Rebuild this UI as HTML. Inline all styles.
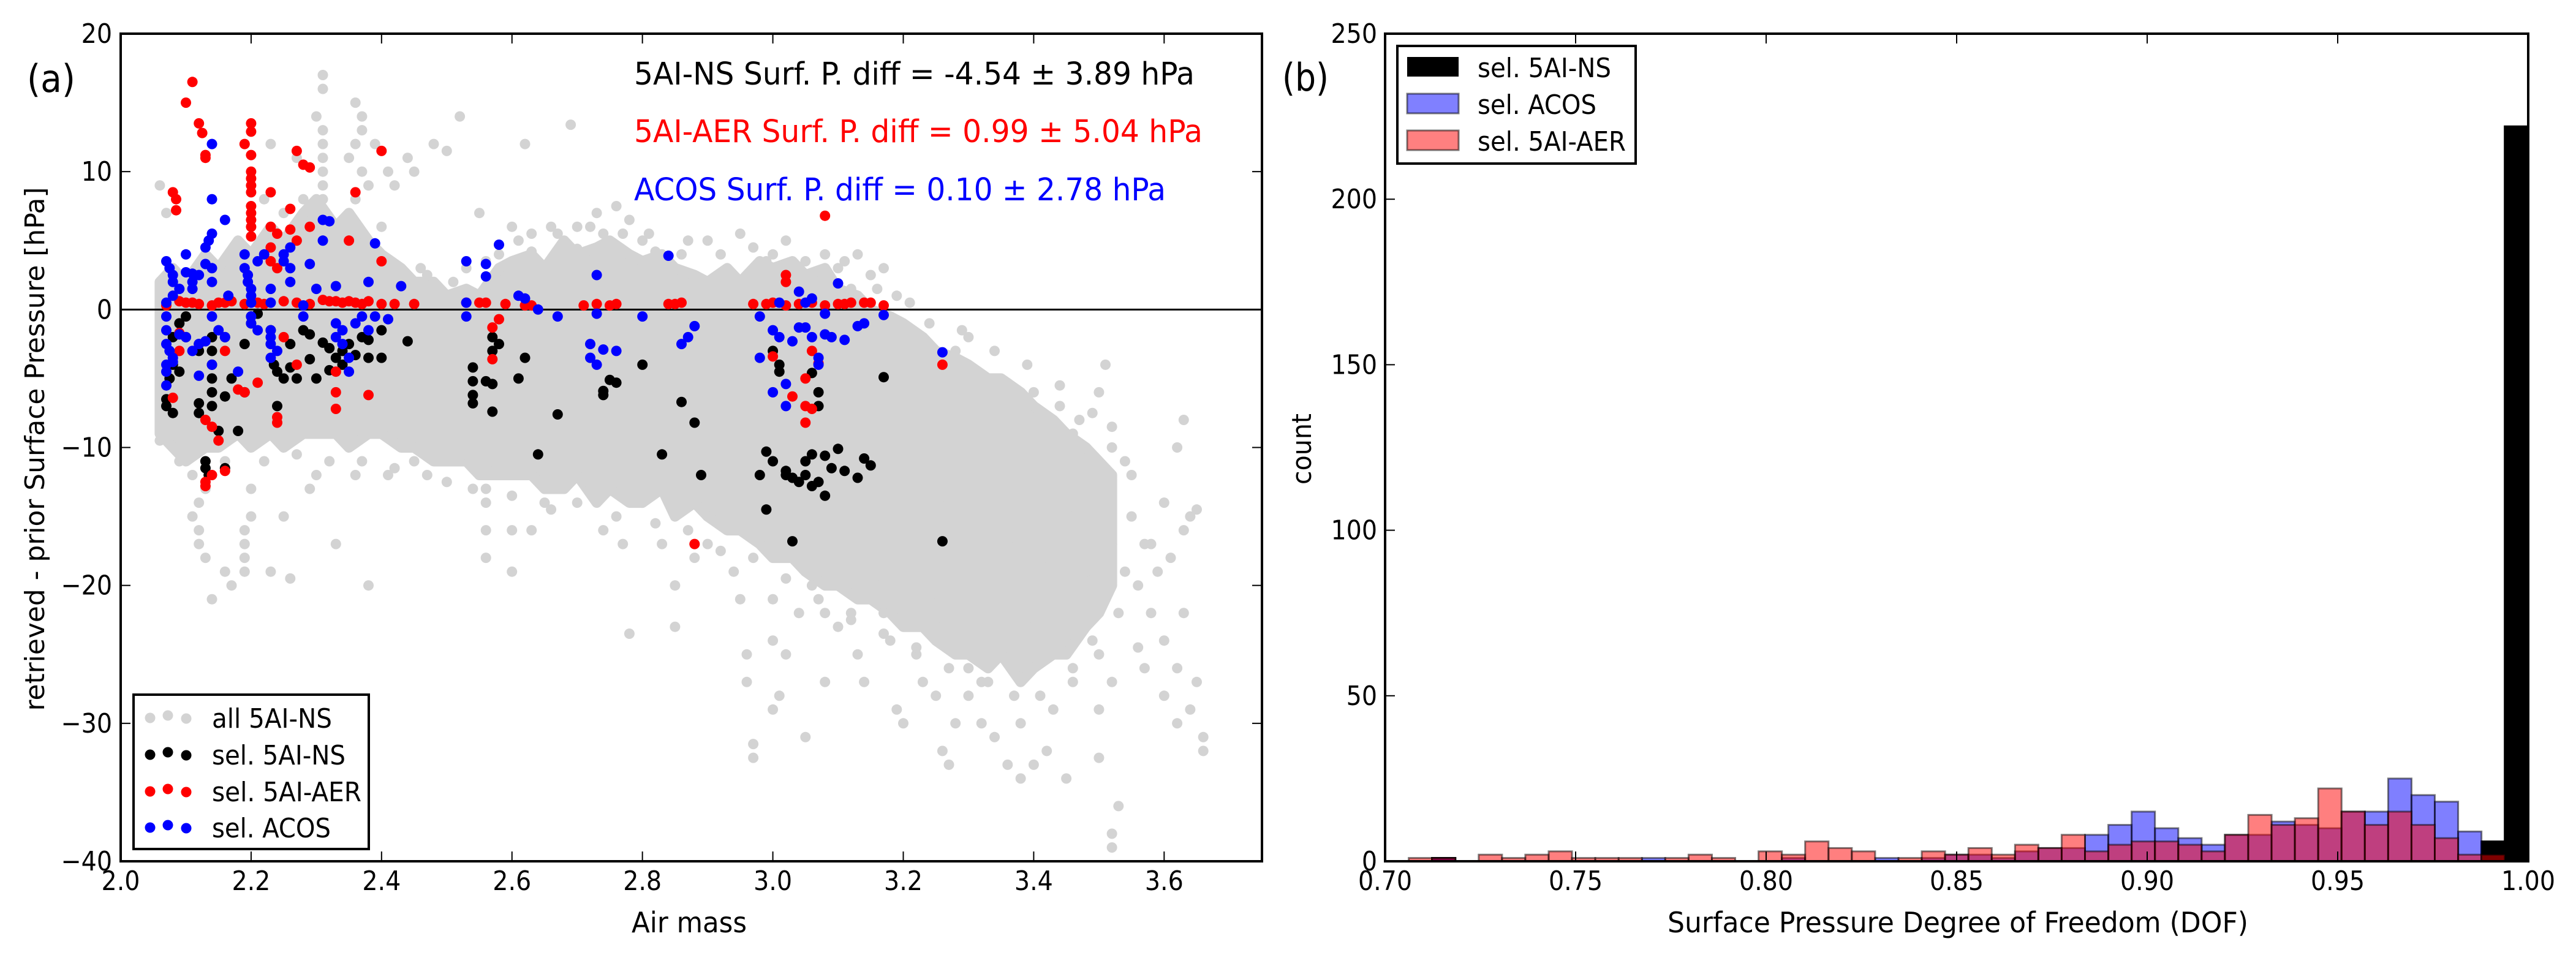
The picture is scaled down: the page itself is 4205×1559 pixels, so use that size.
<!DOCTYPE html>
<html><head><meta charset="utf-8"><style>
html,body{margin:0;padding:0;background:#fff;}
svg{display:block;font-family:"DejaVu Sans Condensed","DejaVu Sans","Liberation Sans",sans-serif;}
</style></head><body>
<svg id="fig" width="4205" height="1559" viewBox="0 0 4205 1559" xmlns="http://www.w3.org/2000/svg">
<g id="panelA"></g>
<g id="panelB"></g>
</svg>
<script>
// ===== Panel (a) data =====
const xTicksA = [2.0,2.2,2.4,2.6,2.8,3.0,3.2,3.4,3.6];
const xTickLabelsA = ["2.0","2.2","2.4","2.6","2.8","3.0","3.2","3.4","3.6"];
const yTicksA = [-40,-30,-20,-10,0,10,20];
const yTickLabelsA = ["\u221240","\u221230","\u221220","\u221210","0","10","20"];
// dense gray cloud envelope: air mass, upper and lower bound (hPa)
const bandX =   [2.06,2.08,2.10,2.13,2.15,2.18,2.20,2.23,2.25,2.28,2.30,2.33,2.35,2.38,2.40,2.43,2.45,2.48,2.50,2.53,2.55,2.58,2.60,2.63,2.65,2.68,2.70,2.73,2.75,2.78,2.80,2.83,2.85,2.88,2.90,2.93,2.95,2.98,3.00,3.03,3.05,3.08,3.10,3.13,3.15,3.18,3.20,3.23,3.25,3.28,3.30,3.33,3.35,3.38,3.40,3.43,3.45,3.48,3.50,3.52];
const bandTop = [2,3,2,4,3,5,4,6,5,7,8,6,7,5,4,3,2,2,1,1.5,1,3,3.5,4,3,5,4,4.5,5,4,3.5,4,3,2.5,2,3,2,3.5,3,3.5,2.5,3,1.5,1,0,-0.5,-1,-2,-3,-3.5,-4,-5,-5,-6,-7,-8,-9,-10,-11,-12];
const bandBot = [-9,-10,-11,-10,-10,-9,-10,-9,-10,-9,-9,-9,-10,-9,-9,-10,-10,-11,-11,-11,-12,-12,-12,-12,-13,-13,-12,-14,-13,-14,-14,-13,-15,-14,-15,-16,-16,-17,-18,-18,-19,-20,-20,-21,-21,-22,-23,-23,-24,-25,-25,-26,-25,-27,-26,-25,-25,-23,-22,-20];
const grayPts = [[2.31,17],[2.31,16],[2.31,13],[2.31,12],[2.31,11],[2.31,10],[2.31,9],[2.31,8],[2.3,14],[2.36,15],[2.37,14],[2.37,13],[2.36,12],[2.35,11],[2.37,10],[2.38,9],[2.36,8],[2.39,12],[2.41,10],[2.42,9],[2.44,11],[2.45,10],[2.52,14],[2.48,12],[2.5,11.5],[2.62,12],[2.69,13.4],[2.23,12],[2.27,11],[2.33,6],[2.06,9],[2.07,7],[2.22,8],[2.28,8],[2.25,7],[2.4,6],[2.55,7],[2.6,6],[2.63,5.5],[2.66,6],[2.7,6],[2.74,5.5],[2.76,7.5],[2.78,6.5],[2.73,7],[2.8,5],[2.9,5],[2.95,5.5],[2.99,3.5],[3.0,4],[3.03,3],[3.05,3.5],[3.1,3],[3.13,4],[3.15,2.5],[3.17,3],[3.19,1],[2.86,4],[2.84,3],[2.82,4.2],[2.7,4.4],[2.63,4.2],[2.58,4],[2.53,3],[2.46,3],[3.07,2],[3.06,2.5],[3.12,1.5],
[2.12,-14],[2.12,-16],[2.12,-17],[2.13,-18],[2.14,-21],[2.11,-15],[2.13,-13],[2.16,-19],[2.17,-20],[2.19,-16],[2.19,-17],[2.19,-18],[2.19,-19],[2.2,-15],[2.2,-13],[2.23,-19],[2.25,-15],[2.26,-19.5],[2.29,-13],[2.3,-12],[2.33,-17],[2.38,-20],[2.36,-12],[2.41,-12],[2.45,-11],[2.52,-11],[2.56,-13],[2.56,-14],[2.56,-16],[2.56,-18],[2.57,-11],[2.6,-16],[2.6,-19],[2.63,-16],[2.65,-14],[2.68,-12],[2.72,-13],[2.74,-16],[2.77,-17],[2.78,-23.5],[2.8,-14],[2.83,-17],[2.85,-20],[2.85,-23],[2.88,-18],[2.92,-15],[2.94,-19],[2.96,-25],[2.96,-27],[2.97,-31.5],[2.97,-32.5],[3.0,-21],[3.0,-24],[3.01,-28],[3.02,-25],[3.04,-22],[3.06,-20],[3.08,-22],[3.08,-27],[3.1,-20],[3.12,-22],[3.13,-25],[3.16,-20],[3.17,-22],[3.2,-21],[3.19,-29],[3.2,-30],[3.22,-25],[3.23,-27],[3.25,-28],[3.26,-32],[3.27,-33],[3.28,-30],[3.3,-26],[3.3,-28],[3.32,-30],[3.33,-27],[3.34,-31],[3.36,-33],[3.38,-30],[3.38,-34],[3.4,-33],[3.42,-32],[3.43,-29],[3.45,-34],[3.44,-24],[3.46,-26],[3.48,-23],[3.5,-25],[3.52,-27],[3.5,-32.5],[3.52,-38],[3.52,-39],[3.53,-36],[3.48,-19],[3.52,-17],[3.55,-15],[3.57,-17],[3.56,-24.5],[3.58,-17],[3.6,-14],[3.62,-10],[3.63,-8],[3.65,-14.5],[3.6,-28],[3.62,-26],[3.64,-29],[3.66,-31],[3.66,-32],[3.62,-30],[3.58,-22],[3.55,-12],[3.5,-6],[3.51,-4],[3.46,-15],[3.42,-18],[3.36,-17],[3.33,-22],[3.26,-23],[3.22,-17],[3.45,-22],[3.4,-23],[3.35,-24],[3.29,-21],[3.24,-21],[3.52,-10],[3.54,-11],[3.46,-9],[3.41,-12],[3.38,-14],[3.35,-13],[3.3,-2],[3.28,-3],[3.25,-4],[3.4,-6],[3.44,-7],[3.47,-8],[3.32,-5],[3.18,-24],[3.14,-27],[3.05,-31],[3.0,-29],[2.95,-21],[2.9,-17],[3.1,-23],[3.27,-14],[3.3,-15],[3.35,-20],[3.42,-25],[3.5,-29],
[2.06,-9.5],[2.09,-11],[2.11,-12],[2.16,-11],[2.22,-11],[2.27,-10.5],[2.32,-11],[2.37,-11],[2.42,-11.5],[2.47,-12],[2.5,-12.5],[2.54,-13],[2.6,-13.5],[2.66,-14.5],[2.7,-14],[2.76,-15],[2.82,-15.5],[2.87,-16],[2.92,-17.5],[2.97,-18],[3.02,-19.5],[3.07,-21],[3.12,-22.5],[3.17,-23.5],[3.22,-24.5],[3.27,-26],[3.32,-27],[3.37,-28],[3.41,-28],[3.46,-27],[3.49,-24],[3.53,-22],[3.54,-19],[3.56,-20],[3.59,-19],[3.61,-18],[3.63,-16],[3.64,-15],[3.57,-26],[3.6,-24],[3.63,-22],[3.65,-27],
[2.47,2.5],[2.51,2],[2.56,3.5],[2.61,5],[2.67,5.5],[2.72,6],[2.77,5.5],[2.81,5.5],[2.87,5],[2.92,4],[2.97,4.5],[3.02,5],[3.08,4],[3.11,3.5],[3.16,1.5],[3.21,0.5],[3.24,-1],[3.29,-1.5],[3.34,-3],[3.39,-4],[3.44,-5.5],[3.49,-7.5],[3.52,-8.5]];
const blackPts = [[2.07,-7],[2.07,-6.5],[2.08,-7.5],[2.075,-5],[2.08,-4],[2.08,-2],[2.09,-1],[2.1,-0.5],[2.1,-2],[2.09,-4.5],[2.12,-2.5],[2.12,-3],[2.12,-7.5],[2.12,-6.8],[2.13,-11],[2.13,-11.5],[2.135,-12],[2.14,-7],[2.14,-6],[2.14,-5],[2.14,-4],[2.14,-3],[2.14,-2],[2.15,-8.8],[2.16,-11.5],[2.16,-6.3],[2.17,-5],[2.16,-2],[2.18,-8.8],[2.19,-6],[2.19,-2.5],[2.2,-1],[2.2,-0.5],[2.21,-0.3],[2.23,-1.5],[2.235,-4],[2.24,-4.5],[2.25,-5],[2.24,-7],[2.26,-2.5],[2.26,-4.2],[2.27,-5],[2.28,-1.5],[2.29,-1.8],[2.29,-3.6],[2.3,-5],[2.31,-2.4],[2.32,-2.8],[2.32,-4.4],[2.33,-3.5],[2.34,-4],[2.34,-3],[2.35,-2.5],[2.36,-3.3],[2.37,-2],[2.38,-2.2],[2.38,-3.5],[2.4,-1.5],[2.4,-3.5],[2.44,-2.3],[2.54,-4.2],[2.54,-5.2],[2.54,-6.2],[2.54,-6.8],[2.56,-5.2],[2.57,-2],[2.57,-3],[2.57,-5.4],[2.58,-2.5],[2.57,-7.4],[2.61,-5],[2.62,-3.5],[2.64,-10.5],[2.67,-7.6],[2.74,-5.9],[2.74,-6.2],[2.75,-5.1],[2.76,-5.3],[2.8,-4],[2.83,-10.5],[2.86,-6.7],[2.88,-8.2],[2.89,-12],[2.98,-12],[2.99,-14.5],[2.99,-10.3],[3.0,-11],[3.0,-3],[3.01,-4],[3.01,-4.5],[3.02,-12],[3.02,-11.7],[3.03,-12.2],[3.03,-16.8],[3.04,-12.5],[3.05,-12],[3.05,-11],[3.06,-10.5],[3.06,-12.8],[3.06,-4.6],[3.07,-6],[3.07,-7],[3.07,-12.5],[3.08,-10.6],[3.08,-13.5],[3.09,-11.5],[3.1,-10.1],[3.11,-11.7],[3.13,-12.2],[3.14,-10.8],[3.15,-11.3],[3.17,-4.9],[3.26,-16.8]];
const redPts = [[2.07,0.3],[2.08,8.5],[2.085,8],[2.085,7.2],[2.08,-6.4],[2.09,-1.7],[2.09,-3],[2.1,0.5],[2.1,15],[2.11,16.5],[2.12,13.5],[2.125,12.8],[2.13,11],[2.13,11.2],[2.14,0.3],[2.13,-8],[2.14,-8.5],[2.13,-12.5],[2.13,-12.8],[2.14,-12],[2.15,-9.5],[2.16,-11.7],[2.16,-3],[2.16,0.5],[2.18,-5.8],[2.19,-6],[2.19,12],[2.2,13.5],[2.2,12.9],[2.2,11.2],[2.2,10],[2.2,9.5],[2.2,9],[2.2,8.5],[2.2,7.5],[2.2,7],[2.2,6.5],[2.2,6],[2.2,5.3],[2.21,-5.3],[2.23,8.5],[2.23,6],[2.24,5.5],[2.23,4.5],[2.23,3.5],[2.24,3],[2.24,-7.8],[2.24,-8.2],[2.26,7.3],[2.26,5.8],[2.27,5],[2.27,11.5],[2.28,10.5],[2.29,10.3],[2.29,6],[2.25,-2],[2.27,-4],[2.33,-4.5],[2.33,-6],[2.33,-7.2],[2.35,5],[2.36,8.5],[2.38,-6.2],[2.4,11.5],[2.4,3.5],[2.57,-1.3],[2.57,-3.6],[2.58,-0.7],[2.56,0.5],[2.63,0.3],[2.88,-17],[3.0,-3.4],[3.02,2.5],[3.02,2],[3.03,-6.3],[3.05,-5],[3.05,-7],[3.05,-8.2],[3.06,-7.2],[3.06,-3],[3.07,-3.9],[3.08,6.8],[3.26,-4],
[2.09,0.6],[2.11,0.5],[2.12,0.4],[2.15,0.5],[2.17,0.6],[2.19,0.4],[2.21,0.5],[2.22,0.4],[2.25,0.6],[2.27,0.5],[2.29,0.4],[2.31,0.7],[2.32,0.6],[2.33,0.6],[2.34,0.5],[2.35,0.6],[2.36,0.5],[2.37,0.4],[2.38,0.6],[2.4,0.4],[2.42,0.4],[2.45,0.4],[2.53,0.5],[2.55,0.5],[2.59,0.4],[2.62,0.3],[2.71,0.3],[2.73,0.4],[2.75,0.3],[2.76,0.4],[2.84,0.4],[2.85,0.4],[2.86,0.5],[2.97,0.4],[2.99,0.4],[3.0,0.5],[3.02,0.3],[3.04,0.4],[3.06,0.5],[3.08,0.3],[3.1,0.4],[3.11,0.4],[3.12,0.5],[3.14,0.5],[3.15,0.5],[3.17,0.3]];
const bluePts = [[2.07,3.5],[2.075,3],[2.08,2.5],[2.08,2],[2.08,1],[2.07,0.5],[2.07,-0.5],[2.07,-1.5],[2.07,-2.5],[2.075,-3],[2.08,-3.5],[2.07,-4],[2.07,-4.5],[2.07,-5.5],[2.08,-3.8],[2.09,-1.8],[2.09,1.5],[2.1,4],[2.1,2.7],[2.11,2.6],[2.11,2],[2.11,1.5],[2.12,2.5],[2.12,-2.5],[2.13,3.3],[2.13,4.5],[2.135,5],[2.14,5.5],[2.14,8],[2.14,12],[2.14,3],[2.14,2],[2.14,-0.5],[2.15,-1.5],[2.14,-4],[2.12,-4.8],[2.11,-3],[2.1,-2],[2.13,-2.3],[2.16,-2],[2.16,6.5],[2.165,1],[2.18,-4.5],[2.19,4],[2.19,3],[2.195,2.5],[2.195,2],[2.2,1.5],[2.2,1],[2.2,0.5],[2.2,-0.5],[2.2,-1],[2.21,-1.5],[2.21,3.5],[2.22,4],[2.23,1.5],[2.23,0.5],[2.23,-1.5],[2.23,-2],[2.23,-2.5],[2.23,-3.5],[2.24,-3],[2.25,3.5],[2.26,2],[2.25,4],[2.26,4.5],[2.26,3],[2.28,-0.5],[2.28,0.3],[2.29,3.3],[2.3,1.5],[2.31,5],[2.31,6.5],[2.32,6.4],[2.33,1.7],[2.33,-1],[2.33,-2],[2.34,-1.5],[2.34,-2.5],[2.35,-3.5],[2.35,-4.5],[2.36,-1],[2.37,-0.5],[2.38,-1.5],[2.38,2],[2.39,4.8],[2.39,-0.5],[2.41,-0.7],[2.43,1.7],[2.53,3.5],[2.53,0.5],[2.53,-0.5],[2.56,2.4],[2.56,3.3],[2.58,4.7],[2.61,1],[2.62,0.8],[2.64,0],[2.67,-0.5],[2.73,2.5],[2.72,-3.5],[2.72,-2.5],[2.73,-4],[2.74,-2.9],[2.76,-3],[2.73,-0.3],[2.8,-0.5],[2.84,3.9],[2.86,-2.5],[2.87,-2],[2.88,-1.2],[2.98,-3.5],[2.98,-0.5],[3.0,-1.5],[3.0,-6],[3.01,-2],[3.01,0.5],[3.02,-5.4],[3.02,-7],[3.03,-2.3],[3.04,-1.3],[3.04,1.3],[3.05,-1.3],[3.05,0.5],[3.06,-2],[3.06,0.8],[3.07,-4],[3.07,-3.5],[3.08,-1.8],[3.08,-0.3],[3.09,-2],[3.1,1.9],[3.11,-2.2],[3.13,-1.2],[3.14,-1],[3.17,-0.4],[3.26,-3.1]];

// ===== Panel (b) data =====
const xTicksB = [0.70,0.75,0.80,0.85,0.90,0.95,1.00];
const xTickLabelsB = ["0.70","0.75","0.80","0.85","0.90","0.95","1.00"];
const yTicksB = [0,50,100,150,200,250];
const yTickLabelsB = ["0","50","100","150","200","250"];
const binStart = 0.7062;
const binWidth = 0.00612;
const countsBlack = [0,1,0,0,0,0,0,0,0,0,0,0,0,0,0,0,0,0,0,0,0,0,0,0,0,0,0,0,0,0,0,0,0,0,0,0,0,0,0,0,0,0,0,0,0,0,6,222];
const countsBlue  = [0,1,0,0,0,0,0,0,0,0,1,0,0,0,0,0,1,0,0,0,1,0,1,2,2,1,3,4,4,8,11,15,10,7,5,8,8,12,11,10,15,15,25,20,18,9,0,0];
const countsRed   = [1,1,0,2,1,2,3,1,1,1,0,1,2,1,0,3,2,6,4,3,0,1,3,2,4,2,5,4,8,3,5,6,6,5,3,8,14,11,13,22,15,11,15,11,7,2,2,0];

const NS = "http://www.w3.org/2000/svg";
function mk(parent, tag, attrs, text){
  const e = document.createElementNS(NS, tag);
  for (const k in attrs) e.setAttribute(k, attrs[k]);
  if (text !== undefined) e.textContent = text;
  parent.appendChild(e);
  return e;
}

// ---------- Panel A ----------
const A = {l:197, r:2060, t:55, b:1406, x0:2.0, x1:3.75, y0:-40, y1:20};
const ax = v => A.l + (v - A.x0) / (A.x1 - A.x0) * (A.r - A.l);
const ay = v => A.b - (v - A.y0) / (A.y1 - A.y0) * (A.b - A.t);
const gA = document.getElementById('panelA');

const defs = mk(document.getElementById('fig'), 'defs', {});
const cpA = mk(defs, 'clipPath', {id:'clipA'});
mk(cpA, 'rect', {x:A.l, y:A.t, width:A.r-A.l, height:A.b-A.t});
const plotA = mk(gA, 'g', {'clip-path':'url(#clipA)'});



let d = '';
bandX.forEach((x,i)=>{ d += (i? 'L':'M') + ax(x).toFixed(1) + ' ' + ay(bandTop[i]).toFixed(1) + ' '; });
for (let i = bandX.length-1; i >= 0; i--) d += 'L' + ax(bandX[i]).toFixed(1) + ' ' + ay(bandBot[i]).toFixed(1) + ' ';
d += 'Z';
const band = mk(plotA, 'path', {d:d, fill:'#d3d3d3', stroke:'#d3d3d3', 'stroke-width':17, 'stroke-linejoin':'round'});



function drawPts(pts, color, name){
  const g = mk(plotA, 'g', {fill:color});
  
  
  pts.forEach(p => {
    const c = mk(g, 'circle', {cx:ax(p[0]).toFixed(1), cy:ay(p[1]).toFixed(1), r:8.5});
    
    
  });
}
drawPts(grayPts, '#d3d3d3', 'all-5ai-ns-series');
const zl = mk(plotA, 'line', {x1:A.l, x2:A.r, y1:ay(0), y2:ay(0), stroke:'#000', 'stroke-width':3});


drawPts(blackPts, '#000000', 'sel-5ai-ns-series');
drawPts(redPts, '#ff0000', 'sel-5ai-aer-series');
drawPts(bluePts, '#0000ff', 'sel-acos-series');

xTicksA.forEach((v,i)=>{
  const x = ax(v);
  mk(gA,'line',{x1:x,x2:x,y1:A.b,y2:A.b-16,stroke:'#000','stroke-width':2});
  mk(gA,'line',{x1:x,x2:x,y1:A.t,y2:A.t+16,stroke:'#000','stroke-width':2});
  const t = mk(gA,'text',{x:x,y:1453,'font-size':44,'text-anchor':'middle'}, xTickLabelsA[i]);
  
  
});
yTicksA.forEach((v,i)=>{
  const y = ay(v);
  mk(gA,'line',{x1:A.l,x2:A.l+16,y1:y,y2:y,stroke:'#000','stroke-width':2});
  mk(gA,'line',{x1:A.r,x2:A.r-16,y1:y,y2:y,stroke:'#000','stroke-width':2});
  const t = mk(gA,'text',{x:183,y:y+15,'font-size':44,'text-anchor':'end'}, yTickLabelsA[i]);
  
  
});
const frA = mk(gA,'rect',{x:A.l,y:A.t,width:A.r-A.l,height:A.b-A.t,fill:'none',stroke:'#000','stroke-width':4});



// ---------- Panel B ----------
const B = {l:2261, r:4127, t:55, b:1406, x0:0.70, x1:1.00, y0:0, y1:250};
const bx = v => B.l + (v - B.x0) / (B.x1 - B.x0) * (B.r - B.l);
const by = v => B.b - (v - B.y0) / (B.y1 - B.y0) * (B.b - B.t);
const gB = document.getElementById('panelB');

function drawHist(counts, fill, stroke, name){
  const g = mk(gB, 'g', {});
  
  
  counts.forEach((c,i)=>{
    if (!c) return;
    const x0 = bx(binStart + i*binWidth), x1 = bx(binStart + (i+1)*binWidth);
    const r = mk(g, 'rect', {x:x0.toFixed(1), y:by(c).toFixed(1), width:(x1-x0).toFixed(1), height:(by(0)-by(c)).toFixed(1), fill:fill, stroke:stroke, 'stroke-width':3});
    
    
  });
}
drawHist(countsBlack, '#000000', '#000000', 'sel-5ai-ns-histogram');
drawHist(countsBlue, 'rgba(0,0,255,0.5)', 'rgba(0,0,0,0.5)', 'sel-acos-histogram');
drawHist(countsRed, 'rgba(255,0,0,0.5)', 'rgba(0,0,0,0.5)', 'sel-5ai-aer-histogram');

xTicksB.forEach((v,i)=>{
  const x = bx(v);
  mk(gB,'line',{x1:x,x2:x,y1:B.b,y2:B.b-16,stroke:'#000','stroke-width':2});
  mk(gB,'line',{x1:x,x2:x,y1:B.t,y2:B.t+16,stroke:'#000','stroke-width':2});
  const t = mk(gB,'text',{x:x,y:1453,'font-size':44,'text-anchor':'middle'}, xTickLabelsB[i]);
  
  
});
yTicksB.forEach((v,i)=>{
  const y = by(v);
  mk(gB,'line',{x1:B.l,x2:B.l+16,y1:y,y2:y,stroke:'#000','stroke-width':2});
  mk(gB,'line',{x1:B.r,x2:B.r-16,y1:y,y2:y,stroke:'#000','stroke-width':2});
  const t = mk(gB,'text',{x:2248,y:y+15,'font-size':44,'text-anchor':'end'}, yTickLabelsB[i]);
  
  
});
const frB = mk(gB,'rect',{x:B.l,y:B.t,width:B.r-B.l,height:B.b-B.t,fill:'none',stroke:'#000','stroke-width':4});


</script>
<div style="position:absolute;left:0;top:0;width:4205px;height:1559px;pointer-events:none">
<svg width="4205" height="1559" viewBox="0 0 4205 1559" xmlns="http://www.w3.org/2000/svg" style="font-family:'DejaVu Sans Condensed','DejaVu Sans','Liberation Sans',sans-serif;">
  <text x="44" y="150" font-size="62" textLength="79" lengthAdjust="spacingAndGlyphs">(a)</text>
  <text x="2093" y="148" font-size="62" textLength="76" lengthAdjust="spacingAndGlyphs">(b)</text>
  <text x="1035" y="138" font-size="51" fill="#000" textLength="915" lengthAdjust="spacingAndGlyphs">5AI-NS Surf. P. diff = -4.54 ± 3.89 hPa</text>
  <text x="1035" y="232" font-size="51" fill="#ff0000" textLength="928" lengthAdjust="spacingAndGlyphs">5AI-AER Surf. P. diff = 0.99 ± 5.04 hPa</text>
  <text x="1035" y="327" font-size="51" fill="#0000ff" textLength="868" lengthAdjust="spacingAndGlyphs">ACOS Surf. P. diff = 0.10 ± 2.78 hPa</text>
  <text x="1125" y="1522" font-size="46" text-anchor="middle" textLength="188" lengthAdjust="spacingAndGlyphs">Air mass</text>
  <text x="3196" y="1522" font-size="46" text-anchor="middle" textLength="948" lengthAdjust="spacingAndGlyphs">Surface Pressure Degree of Freedom (DOF)</text>
  <text transform="translate(72,733) rotate(-90)" font-size="44" text-anchor="middle" textLength="855" lengthAdjust="spacingAndGlyphs">retrieved - prior Surface Pressure [hPa]</text>
  <text transform="translate(2140,733) rotate(-90)" font-size="44" text-anchor="middle" textLength="116" lengthAdjust="spacingAndGlyphs">count</text>

  <g>
    <rect x="218" y="1134" width="384" height="252" fill="#fff" stroke="#000" stroke-width="4"/>
    <g fill="#d3d3d3">
      <circle cx="245" cy="1172" r="8.5"/><circle cx="274" cy="1168" r="8.5"/><circle cx="304" cy="1173" r="8.5"/>
      <text x="346" y="1188" font-size="44" fill="#000" textLength="196" lengthAdjust="spacingAndGlyphs">all 5AI-NS</text>
    </g>
    <g fill="#000">
      <circle cx="245" cy="1232" r="8.5"/><circle cx="274" cy="1228" r="8.5"/><circle cx="304" cy="1233" r="8.5"/>
      <text x="346" y="1248" font-size="44" fill="#000" textLength="218" lengthAdjust="spacingAndGlyphs">sel. 5AI-NS</text>
    </g>
    <g fill="#ff0000">
      <circle cx="245" cy="1292" r="8.5"/><circle cx="274" cy="1288" r="8.5"/><circle cx="304" cy="1293" r="8.5"/>
      <text x="346" y="1308" font-size="44" fill="#000" textLength="244" lengthAdjust="spacingAndGlyphs">sel. 5AI-AER</text>
    </g>
    <g fill="#0000ff">
      <circle cx="245" cy="1351" r="8.5"/><circle cx="274" cy="1347" r="8.5"/><circle cx="304" cy="1352" r="8.5"/>
      <text x="346" y="1367" font-size="44" fill="#000" textLength="194" lengthAdjust="spacingAndGlyphs">sel. ACOS</text>
    </g>
  </g>

  <g>
    <rect x="2281" y="75" width="389" height="192" fill="#fff" stroke="#000" stroke-width="4"/>
    <g>
      <rect x="2297" y="93" width="84" height="32" fill="#000"/>
      <text x="2412" y="126" font-size="44" textLength="218" lengthAdjust="spacingAndGlyphs">sel. 5AI-NS</text>
    </g>
    <g>
      <rect x="2297" y="153" width="84" height="32" fill="#8080ff" stroke="rgba(0,0,0,0.5)" stroke-width="3"/>
      <text x="2412" y="186" font-size="44" textLength="194" lengthAdjust="spacingAndGlyphs">sel. ACOS</text>
    </g>
    <g>
      <rect x="2297" y="213" width="84" height="32" fill="#ff8080" stroke="rgba(0,0,0,0.5)" stroke-width="3"/>
      <text x="2412" y="246" font-size="44" textLength="242" lengthAdjust="spacingAndGlyphs">sel. 5AI-AER</text>
    </g>
  </g>
</svg>
</div>
</body></html>
